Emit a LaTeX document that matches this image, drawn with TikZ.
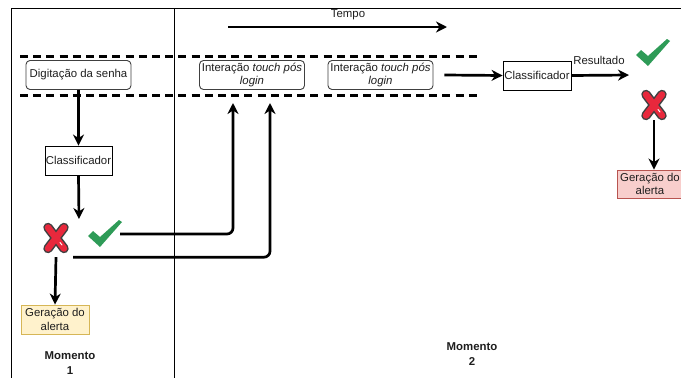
\documentclass[tikz,border=0pt]{standalone}
\usepackage{fontspec}
\setmainfont{Liberation Sans}
\usetikzlibrary{arrows.meta}
\definecolor{okgreen}{HTML}{2E9B57}
\definecolor{xred}{HTML}{E8283C}
\definecolor{xline}{HTML}{404040}
\definecolor{yfill}{HTML}{FFF2CC}
\definecolor{ydraw}{HTML}{D6B656}
\definecolor{rfill}{HTML}{F8CECC}
\definecolor{rdraw}{HTML}{B85450}
\definecolor{txt}{HTML}{1E1E1E}
\tikzset{
  basebox/.style={inner sep=0pt, align=center, text=txt, line width=0.9pt},
  rbox/.style={basebox, draw=xline, rounded corners=4pt, minimum width=105pt, minimum height=29pt},
  sbox/.style={basebox, draw=black, minimum width=67pt, minimum height=29pt},
  ybox/.style={basebox, draw=ydraw, fill=yfill, minimum width=68pt, minimum height=29pt},
  redbox/.style={basebox, draw=rdraw, fill=rfill, minimum width=66pt, minimum height=28pt},
  arr/.style={line width=2.7pt, -{Stealth[length=11pt,width=11pt,inset=3.5pt]}},
  dashline/.style={line width=3pt, dash pattern=on 8pt off 5.2pt},
  frame/.style={line width=1pt, draw=black},
  iconnode/.style={inner sep=0pt, minimum width=30pt, minimum height=30pt},
  lbl/.style={text=txt, inner sep=0pt},
  okmark/.pic={\fill[okgreen] (-17,2) -- (-12,-3) -- (-5,3) -- (14,-14) -- (17,-12) -- (-5,13) -- cycle;},
  nomark/.pic={
    \draw[line width=9.5pt, xline, line cap=round] (-8,-10.5) -- (8,10.5) (8,-10.5) -- (-8,10.5);
    \draw[line width=6.5pt, xred, line cap=round] (-8,-10.5) -- (8,10.5) (8,-10.5) -- (-8,10.5);
    \draw[line width=1pt, white, line cap=round] (4,4.5) -- (6,7);
  }
}
\begin{document}
\begin{tikzpicture}[x=1pt,y=-1pt,font=\fontsize{11.4}{13.5}\selectfont]
\clip (0,0) rectangle (681,378);
\fill[white] (0,0) rectangle (681,378);
% frame
\draw[frame] (11,378) -- (11,8) -- (681,8);
\draw[frame] (174,8) -- (174,378);
% time arrow
\coordinate (t0) at (228,27);
\coordinate (t1) at (447,27);
\draw[arr] (t0) -- (t1);
\node[lbl] (tempo) at (348,15) {Tempo};
% dashed band
\coordinate (d0) at (20,56);
\coordinate (d1) at (481,56);
\coordinate (d2) at (20,95);
\coordinate (d3) at (481,95);
\draw[dashline] (d0) -- (d1);
\draw[dashline] (d2) -- (d3);
% boxes
\node[rbox] (dig) at (78.5,75) {Digitação da senha};
\node[rbox] (int1) at (252,75) {Interação \textit{touch pós}\\\textit{login}};
\node[rbox] (int2) at (380.5,75) {Interação \textit{touch pós}\\\textit{login}};
\node[sbox, minimum width=68pt] (cls2) at (537,75.5) {Classificador};
\node[sbox] (cls1) at (78.5,160.5) {Classificador};
\node[ybox] (al1) at (55,319.5) {Geração do\\alerta};
\node[redbox] (al2) at (650,184) {Geração do\\alerta};
% icons
\node[iconnode] (ok1) at (105,234) {};
\pic at (ok1) {okmark};
\node[iconnode, minimum width=34pt, minimum height=38pt] (x1) at (56,238) {};
\pic at (x1) {nomark};
\node[iconnode] (ok2) at (653,53) {};
\pic at (ok2) {okmark};
\node[iconnode] (x2) at (654,105) {};
\pic at (x2) {nomark};
% connectors
\coordinate (split) at (79,219);
\coordinate (a1) at (233,103);
\coordinate (a2) at (270,103);
\coordinate (res) at (629,75);
\draw[arr] (dig.south) -- (cls1.north);
\draw[arr] (cls1.south) -- (split);
\draw[arr, rounded corners=6pt] (ok1.east) -| (a1);
\draw[arr, rounded corners=6pt] (x1.south east) -| (a2);
\draw[arr] (x1.south) -- (al1.north);
\draw[arr] ([xshift=11pt]int2.east) -- (cls2.west);
\draw[arr] (cls2.east) -- (res);
\node[lbl] (resl) at (599,60) {Resultado};
\draw[arr] (x2.south) -- (x2.south |- al2.north);
% moments
\node[lbl, align=center, font=\fontsize{11.4}{14.5}\selectfont\bfseries] (m1) at (70,363) {Momento\\1};
\node[lbl, align=center, font=\fontsize{11.4}{14.5}\selectfont\bfseries] (m2) at (472,354) {Momento\\2};
\end{tikzpicture}
\end{document}
